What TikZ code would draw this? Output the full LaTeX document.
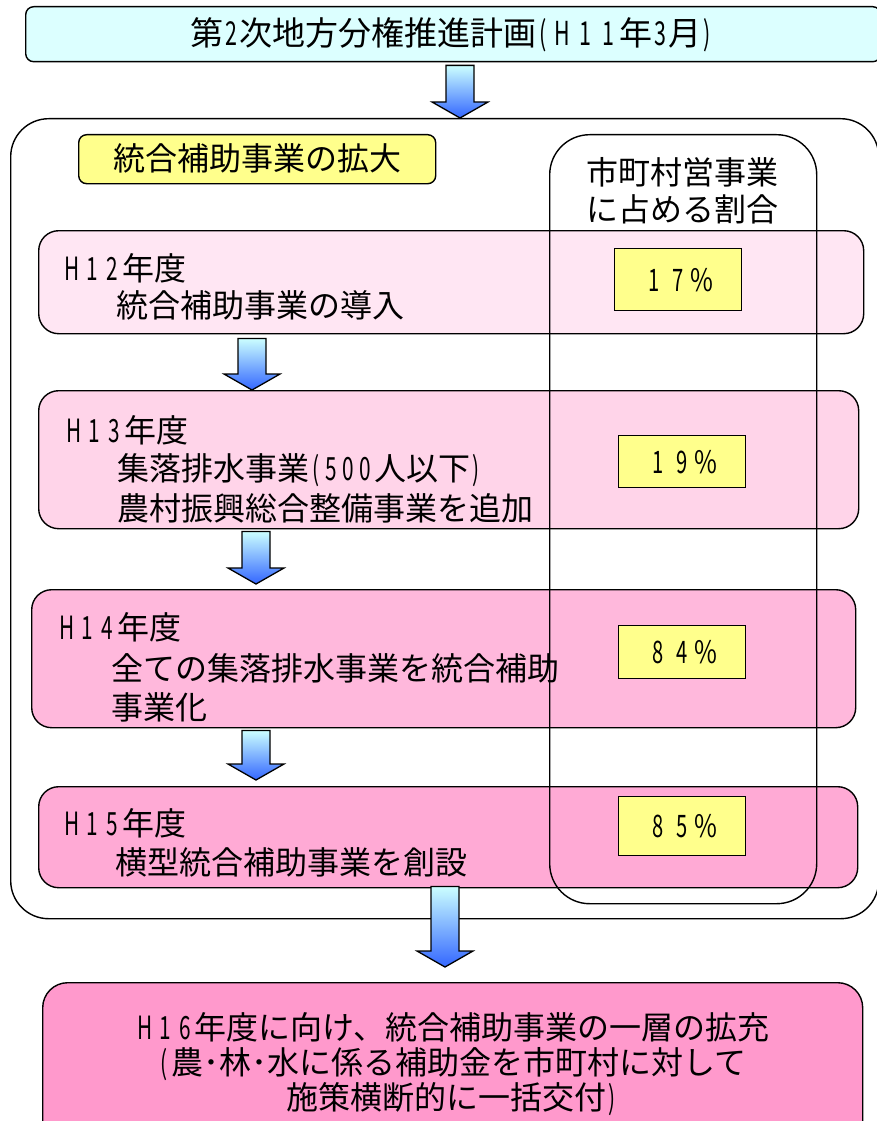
\documentclass[tikz,border=0pt]{standalone}
\usepackage{fontspec}
\usepackage{graphicx}
\setmainfont{Noto Sans CJK JP}
\usetikzlibrary{calc}
\definecolor{topcyan}{HTML}{DCFFFF}
\definecolor{lblyellow}{HTML}{FFFF8C}
\definecolor{cA}{HTML}{FFE6F3}
\definecolor{cB}{HTML}{FFD4E9}
\definecolor{cC}{HTML}{FFB8DC}
\definecolor{cD}{HTML}{FFAAD5}
\definecolor{cE}{HTML}{FF99CC}
\definecolor{arrtop}{HTML}{CCFFFF}
\definecolor{arrbot}{HTML}{3366FF}
\newcommand\nar[1]{\scalebox{0.65}[1]{#1}}
\newcommand\hsp[1]{\makebox[20pt]{\nar{#1}}}
\newcommand\tsp[1]{\makebox[23pt]{\nar{#1}}}
\newcommand\psp[1]{\makebox[24pt]{\nar{#1}}}
\newcommand\pct{\makebox[24pt]{\scalebox{0.8}[1]{\%}}}
\newcommand\dsp[1]{\makebox[17pt]{\nar{#1}}}
\newcommand\lp{\makebox[14pt]{\nar{(}}}
\newcommand\rp{\makebox[12pt]{\nar{)}}}
\newcommand\fatarrow[5]{%
  \draw[fatarr] let \p1=(#1.south), \p2=(#2.north) in
    (#3pt-14pt,\y1-#4pt) -- (#3pt+14pt,\y1-#4pt) -- (#3pt+14pt,\y2+#5pt+16pt)
    -- (#3pt+28pt,\y2+#5pt+16pt) -- (#3pt,\y2+#5pt) -- (#3pt-28pt,\y2+#5pt+16pt)
    -- (#3pt-14pt,\y2+#5pt+16pt) -- cycle;}
\tikzset{
  outline/.style={draw=black, line width=1.4pt, inner sep=0pt, anchor=north west},
  yearbox/.style={outline, rounded corners=20pt},
  pctbox/.style={outline, fill=lblyellow, minimum width=127pt},
  pcttxt/.style={inner sep=0pt, font=\fontsize{31}{36}\selectfont},
  txt/.style={inner sep=0pt, anchor=base west, font=\fontsize{32}{38}\selectfont},
  ctxt/.style={inner sep=0pt, anchor=base, font=\fontsize{32}{38}\selectfont},
  fatarr/.style={draw=black, line width=1.3pt, line join=miter, top color=arrtop, bottom color=arrbot},
}
\begin{document}
\begin{tikzpicture}[x=1pt,y=-1pt]
\useasboundingbox (0,0) rectangle (877,1121);
% outer frame
\node[outline, rounded corners=38pt, minimum width=868pt, minimum height=800pt] (frame) at (10,118) {};
% title
\node[outline, rounded corners=8pt, fill=topcyan, minimum width=855pt, minimum height=55pt] (title) at (25,6) {};
\node[ctxt, font=\fontsize{33}{38}\selectfont] (titletxt) at (452,46) {第\makebox[16pt]{\nar{2}}次地方分権推進計画\lp\tsp{H}\tsp{1}\tsp{1}年\makebox[16pt]{\nar{3}}月\rp};
% label
\node[outline, rounded corners=8pt, fill=lblyellow, minimum width=357pt, minimum height=49pt] (label) at (78,134) {};
\node[ctxt] (labeltxt) at (257,170) {統合補助事業の拡大};
% year boxes
\node[yearbox, fill=cA, minimum width=825pt, minimum height=103pt] (h12) at (38,230) {};
\node[txt] at ($(h12.north west)+(24,50)$) {\hsp{H}\hsp{1}\hsp{2}年度};
\node[txt] at ($(h12.north west)+(78,87)$) {統合補助事業の導入};
\node[yearbox, fill=cB, minimum width=820pt, minimum height=138pt] (h13) at (38,390) {};
\node[txt] at ($(h13.north west)+(26,52)$) {\hsp{H}\hsp{1}\hsp{3}年度};
\node[txt] at ($(h13.north west)+(79,90)$) {集落排水事業\lp\dsp{5}\dsp{0}\dsp{0}人以下\rp};
\node[txt] at ($(h13.north west)+(79,130)$) {農村振興総合整備事業を追加};
\node[yearbox, fill=cC, minimum width=824pt, minimum height=138pt] (h14) at (31,589) {};
\node[txt] at ($(h14.north west)+(26,50)$) {\hsp{H}\hsp{1}\hsp{4}年度};
\node[txt] at ($(h14.north west)+(80,91)$) {全ての集落排水事業を統合補助};
\node[txt] at ($(h14.north west)+(80,130)$) {事業化};
\node[yearbox, fill=cD, minimum width=819pt, minimum height=101pt] (h15) at (38,786) {};
\node[txt] at ($(h15.north west)+(24,49)$) {\hsp{H}\hsp{1}\hsp{5}年度};
\node[txt] at ($(h15.north west)+(77,88)$) {横型統合補助事業を創設};
% column frame
\node[outline, rounded corners=40pt, minimum width=267pt, minimum height=769pt] (col) at (549,134) {};
\node[ctxt] (colA) at (682,184) {市町村営事業};
\node[ctxt] (colB) at (682,221) {に占める割合};
% percentage boxes
\node[pctbox, minimum height=62pt] (p12) at (614,248) {};
\node[pcttxt] at (p12.center) {\psp{1}\psp{7}\pct};
\node[pctbox, minimum height=52pt] (p13) at (618,435) {};
\node[pcttxt] at (p13.center) {\psp{1}\psp{9}\pct};
\node[pctbox, minimum height=53pt] (p14) at (618,625) {};
\node[pcttxt] at (p14.center) {\psp{8}\psp{4}\pct};
\node[pctbox, minimum height=59pt] (p15) at (618,796) {};
\node[pcttxt] at (p15.center) {\psp{8}\psp{5}\pct};
% final box
\node[outline, rounded corners=25pt, fill=cE, minimum width=820pt, minimum height=170pt] (h16) at (42,982) {};
\node[ctxt] at (452,1039) {\hsp{H}\hsp{1}\hsp{6}年度に向け、統合補助事業の一層の拡充};
\node[ctxt] at (452,1074) {\lp 農･林･水に係る補助金を市町村に対して};
\node[ctxt] at (452,1109) {施策横断的に一括交付\rp};
% arrows
\fatarrow{title}{frame}{460}{3}{0}
\fatarrow{h12}{h13}{252}{4}{0}
\fatarrow{h13}{h14}{256}{2}{5}
\fatarrow{h14}{h15}{256}{2}{6}
\fatarrow{h15}{h16}{445}{-2}{15}
\end{tikzpicture}
\end{document}
